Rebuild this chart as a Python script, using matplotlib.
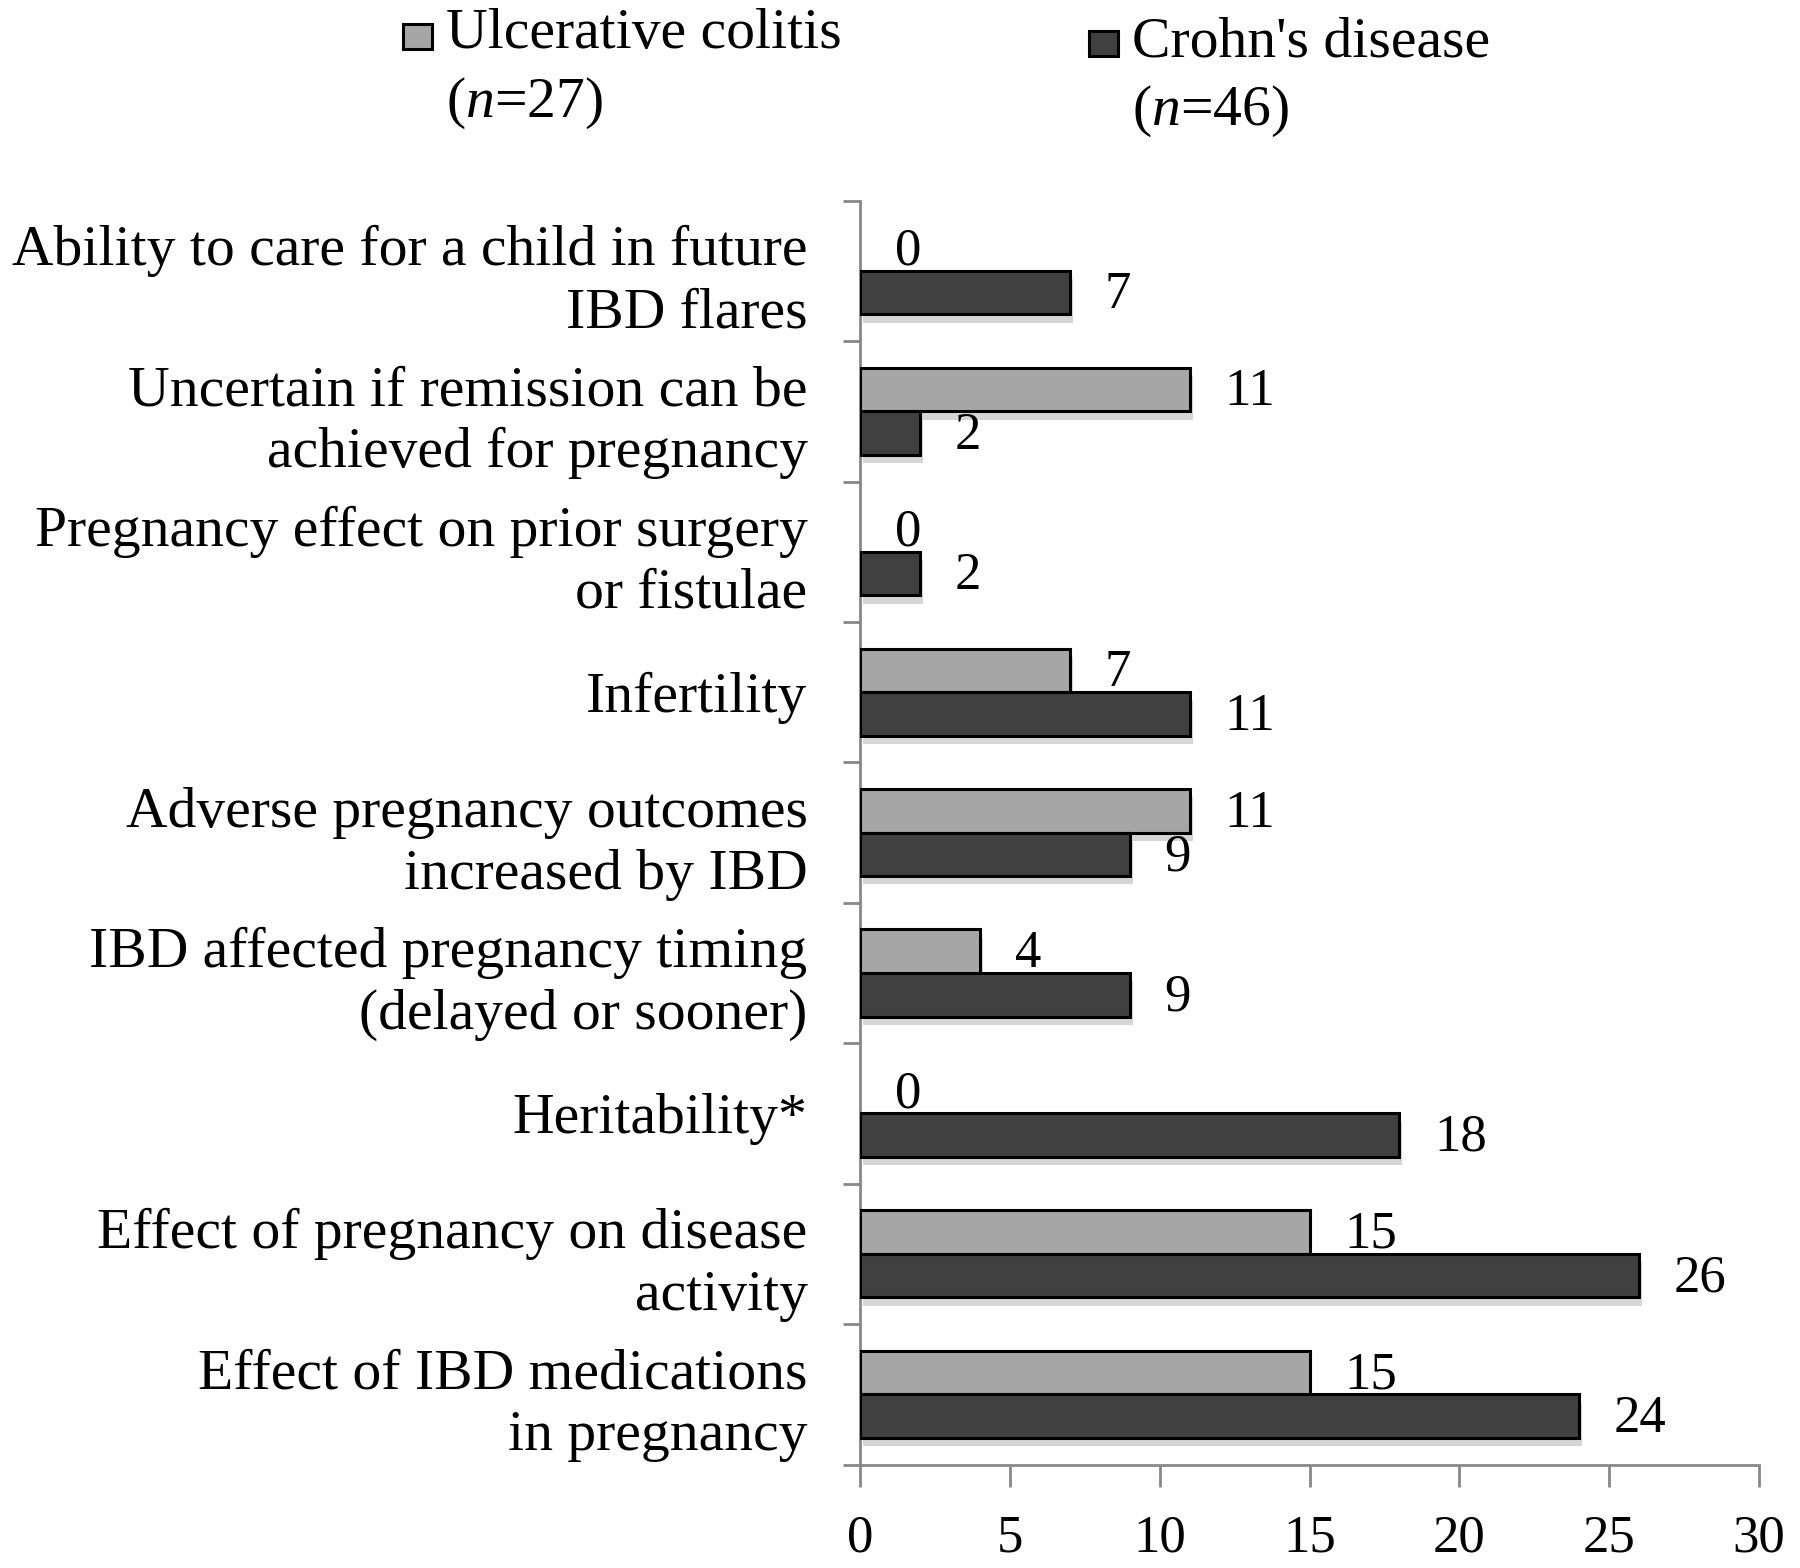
"""Horizontal grouped bar chart: pregnancy-related concerns, UC vs Crohn's."""
import matplotlib
matplotlib.use("Agg")
import matplotlib.pyplot as plt
import matplotlib.patheffects as pe
from matplotlib.patches import Rectangle
import numpy as np

plt.rcParams["font.family"] = ["Liberation Serif", "DejaVu Serif"]
plt.rcParams["mathtext.fontset"] = "custom"
plt.rcParams["mathtext.it"] = "Liberation Serif:italic"
plt.rcParams["mathtext.rm"] = "Liberation Serif"

CATEGORIES = [
    "Ability to care for a child in future\nIBD flares",
    "Uncertain if remission can be\nachieved for pregnancy",
    "Pregnancy effect on prior surgery\nor fistulae",
    "Infertility",
    "Adverse pregnancy outcomes\nincreased by IBD",
    "IBD affected pregnancy timing\n(delayed or sooner)",
    "Heritability*",
    "Effect of pregnancy on disease\nactivity",
    "Effect of IBD medications\nin pregnancy",
]
UC = [0, 11, 0, 7, 11, 4, 0, 15, 15]
CD = [7, 2, 2, 11, 9, 9, 18, 26, 24]
SERIES_NAMES = [("Ulcerative colitis", "($n$=27)"), ("Crohn's disease", "($n$=46)")]
XTICKS = [0, 5, 10, 15, 20, 25, 30]

COL_UC = "#a6a6a6"
COL_CD = "#404040"
FS_CAT = 41.5
FS_NUM = 38

fig = plt.figure(figsize=(18, 15.68), dpi=100)
ax = fig.add_axes([0.478, 0.066, 0.499, 0.806])

y = np.arange(len(CATEGORIES))
h = 0.31
shadow = [pe.SimplePatchShadow(offset=(2, -6), shadow_rgbFace="0.55", alpha=0.35),
          pe.Normal()]
for vals, off, col in ((UC, -h / 2, COL_UC), (CD, h / 2, COL_CD)):
    bars = ax.barh(y + off, vals, height=h, color=col, edgecolor="black",
                   linewidth=2.2, zorder=3)
    for b, v in zip(bars, vals):
        if v > 0:
            b.set_path_effects(shadow)
        else:
            b.set_linewidth(0)
        ax.annotate(str(v), (v, b.get_y() + h / 2), xytext=(25, -2),
                    textcoords="offset points", ha="left", va="center",
                    fontsize=FS_NUM, zorder=4)

ax.set_xlim(0, 30)
ax.set_ylim(len(CATEGORIES) - 0.5, -0.5)
ax.set_xticks(XTICKS)
ax.set_xticklabels([str(t) for t in XTICKS], fontsize=FS_NUM)
ax.tick_params(axis="x", length=16, width=2, color="#888888", pad=20)

# category boundaries get tick marks, labels sit between them
ax.set_yticks(np.arange(len(CATEGORIES) + 1) - 0.5)
ax.set_yticklabels([])
ax.set_yticks(y, minor=True)
ax.set_yticklabels(CATEGORIES, minor=True, fontsize=FS_CAT, linespacing=1.25)
ax.tick_params(axis="y", which="major", length=12, width=2, color="#888888")
ax.tick_params(axis="y", which="minor", length=0, pad=38)
for lab in ax.get_yticklabels(minor=True):
    lab.set_ha("right")

for s in ("top", "right"):
    ax.spines[s].set_visible(False)
for s in ("left", "bottom"):
    ax.spines[s].set_color("#888888")
    ax.spines[s].set_linewidth(2)

# legend drawn by hand to match the two-line layout
legend_pos = [(0.224, 0.969, 0.978, 0.934, COL_UC), (0.605, 0.964, 0.973, 0.929, COL_CD)]
for (x0, ysq, y1, y2, col), (l1, l2) in zip(legend_pos, SERIES_NAMES):
    fig.patches.append(Rectangle((x0, ysq), 0.016, 0.016, transform=fig.transFigure,
                                 facecolor=col, edgecolor="black", linewidth=2.2))
    fig.text(x0 + 0.024, y1, l1, fontsize=FS_CAT, va="center", ha="left")
    fig.text(x0 + 0.024, y2, l2, fontsize=FS_CAT, va="center", ha="left")

fig.savefig("out.png", dpi=100)
